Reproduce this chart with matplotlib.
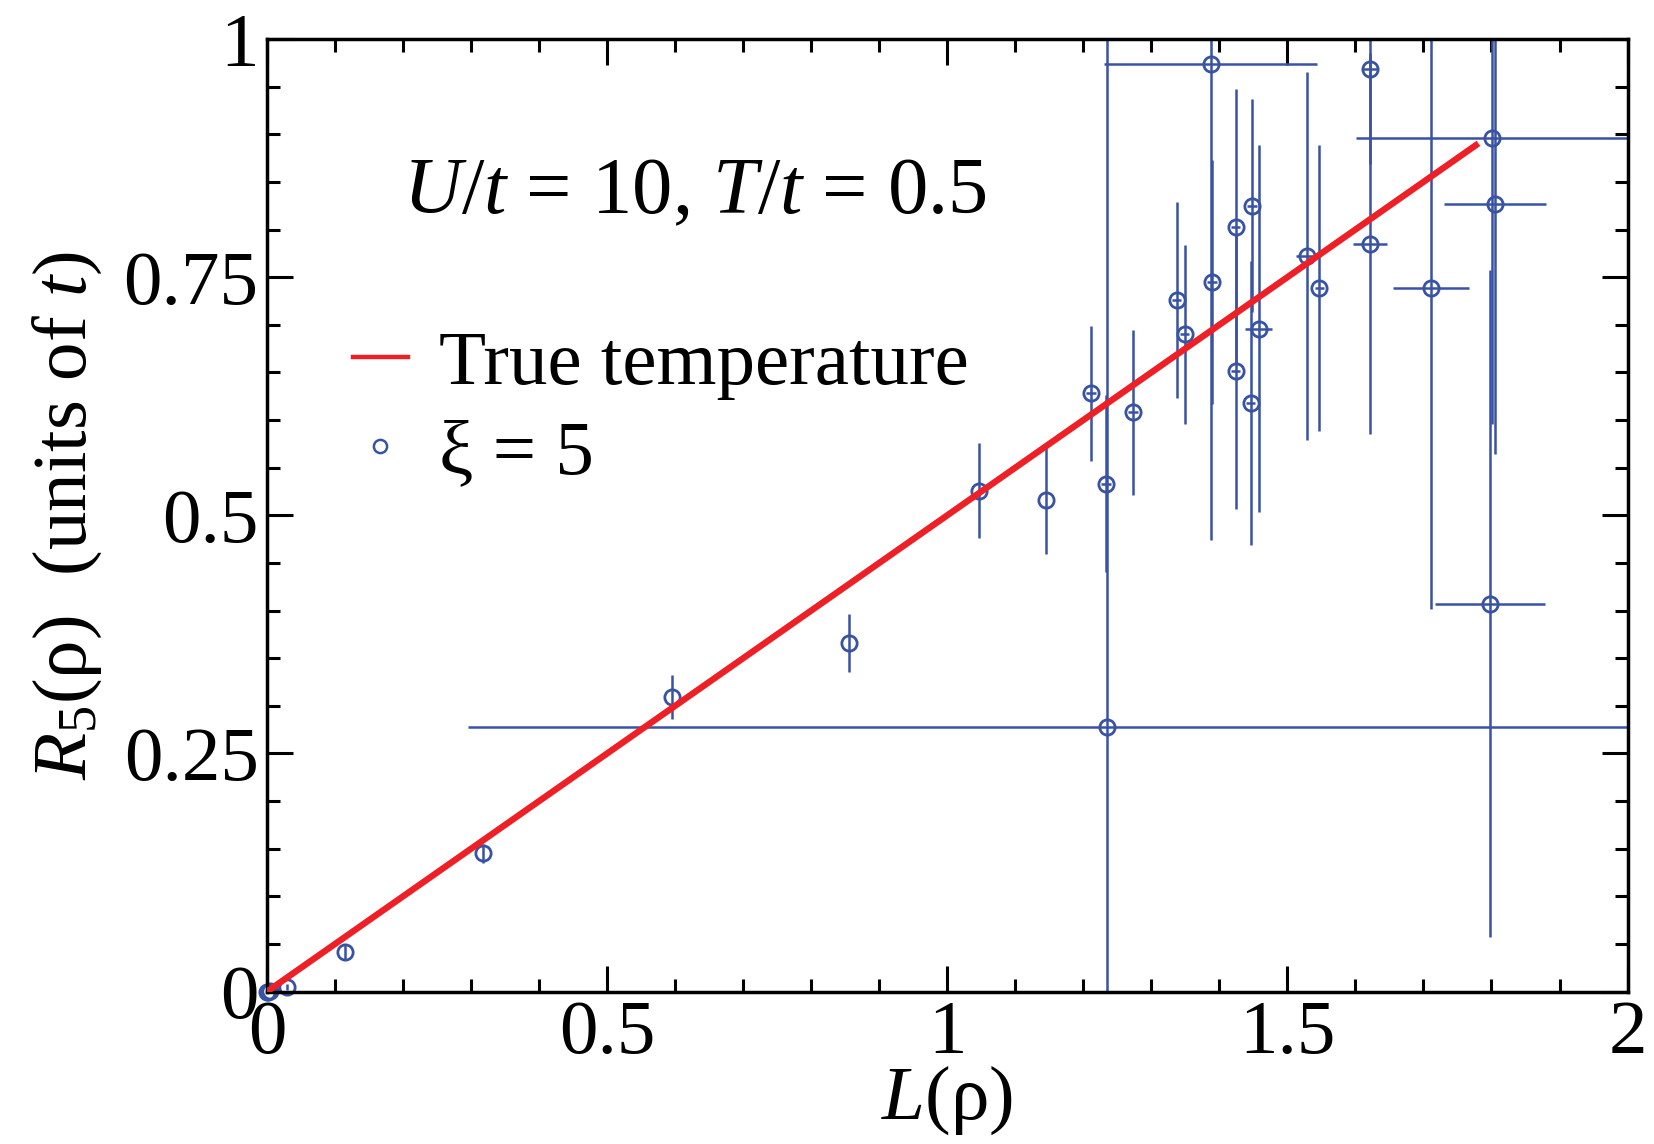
import matplotlib
matplotlib.use('Agg')
import matplotlib.pyplot as plt
from matplotlib.ticker import MultipleLocator

# Fuentes tipo Times
plt.rcParams['font.family'] = ['Liberation Serif', 'DejaVu Serif']
plt.rcParams['mathtext.fontset'] = 'custom'
plt.rcParams['mathtext.rm'] = 'Liberation Serif'
plt.rcParams['mathtext.it'] = 'Liberation Serif:italic'

# Datos
L_rho = [0.0, 0.002, 0.004, 0.029, 0.115, 0.317, 0.596, 0.856, 1.046, 1.145,
         1.211, 1.233, 1.235, 1.273, 1.337, 1.349, 1.387, 1.389, 1.424, 1.424,
         1.446, 1.448, 1.458, 1.529, 1.547, 1.621, 1.621, 1.711, 1.798, 1.801,
         1.805]
R5 = [0.0, 0.0, 0.001, 0.005, 0.042, 0.145, 0.309, 0.366, 0.526, 0.516,
      0.628, 0.533, 0.278, 0.608, 0.726, 0.690, 0.974, 0.745, 0.803, 0.651,
      0.618, 0.825, 0.696, 0.772, 0.739, 0.969, 0.785, 0.739, 0.407, 0.896,
      0.827]
R5_err = [0.0, 0.0, 0.0, 0.003, 0.008, 0.010, 0.023, 0.030, 0.050, 0.057,
          0.071, 0.093, 0.94, 0.087, 0.103, 0.094, 0.50, 0.128, 0.144, 0.144,
          0.149, 0.112, 0.193, 0.193, 0.150, 0.10, 0.20, 0.337, 0.35, 0.30,
          0.263]
L_err = [0.0, 0.0, 0.0, 0.0, 0.0, 0.0, 0.0, 0.0, 0.0, 0.0,
         0.007, 0.007, 0.94, 0.007, 0.007, 0.007, 0.157, 0.007, 0.007, 0.007,
         0.007, 0.007, 0.020, 0.017, 0.007, 0.010, 0.025, 0.0555, 0.081, 0.20,
         0.075]

# Linea de temperatura real (extremos)
true_L = [0.0, 1.777]
true_R = [0.0, 0.8885]

AZUL = '#3953a4'
ROJO = '#ee2026'
FS = 55.5

fig = plt.figure(figsize=(16.54, 11.44), dpi=100)
ax = fig.add_axes([0.1614, 0.1332, 0.8226, 0.8327])

eb = ax.errorbar(L_rho, R5, xerr=L_err, yerr=R5_err, fmt='o', ms=11, mew=2.0,
                 mfc='none', mec=AZUL, ecolor=AZUL, elinewidth=1.8, capsize=0,
                 zorder=2)
eb[0].set_clip_on(False)

ax.plot(true_L, true_R, '-', color=ROJO, lw=4.6, zorder=3)

# Leyenda con marcadores simples
h1, = ax.plot([], [], '-', color=ROJO, lw=3.2)
h2, = ax.plot([], [], 'o', ms=9.5, mew=1.8, mfc='none', mec=AZUL)
ax.legend([h1, h2], ['True temperature', 'ξ = 5'], loc='upper left',
          bbox_to_anchor=(0.063, 0.694), frameon=False, fontsize=55.5,
          borderpad=0, borderaxespad=0, handlelength=0.72,
          handletextpad=0.4, labelspacing=0.24)

ax.text(0.1, 0.838, '$U$/$t$ = 10, $T$/$t$ = 0.5', transform=ax.transAxes,
        fontsize=58, ha='left', va='center')

ax.set_xlim(0, 2)
ax.set_ylim(0, 1)
ax.xaxis.set_minor_locator(MultipleLocator(0.1))
ax.yaxis.set_minor_locator(MultipleLocator(0.05))
ax.set_xticks([0, 0.5, 1, 1.5, 2])
ax.set_xticklabels(['0', '0.5', '1', '1.5', '2'])
ax.set_yticks([0, 0.25, 0.5, 0.75, 1])
ax.set_yticklabels(['0', '0.25', '0.5', '0.75', '1'])

ax.tick_params(which='both', direction='in', top=True, right=True,
               labelsize=FS, width=2.2)
ax.tick_params(which='major', length=19, pad=6)
ax.tick_params(which='minor', length=9.5)
for s in ax.spines.values():
    s.set_linewidth(2.5)

ax.set_xlabel('$L$(ρ)', fontsize=FS, labelpad=-4)
ax.set_ylabel('$R_5$(ρ)  (units of $t$)', fontsize=FS, labelpad=14)

fig.savefig('out.png', dpi=100)
